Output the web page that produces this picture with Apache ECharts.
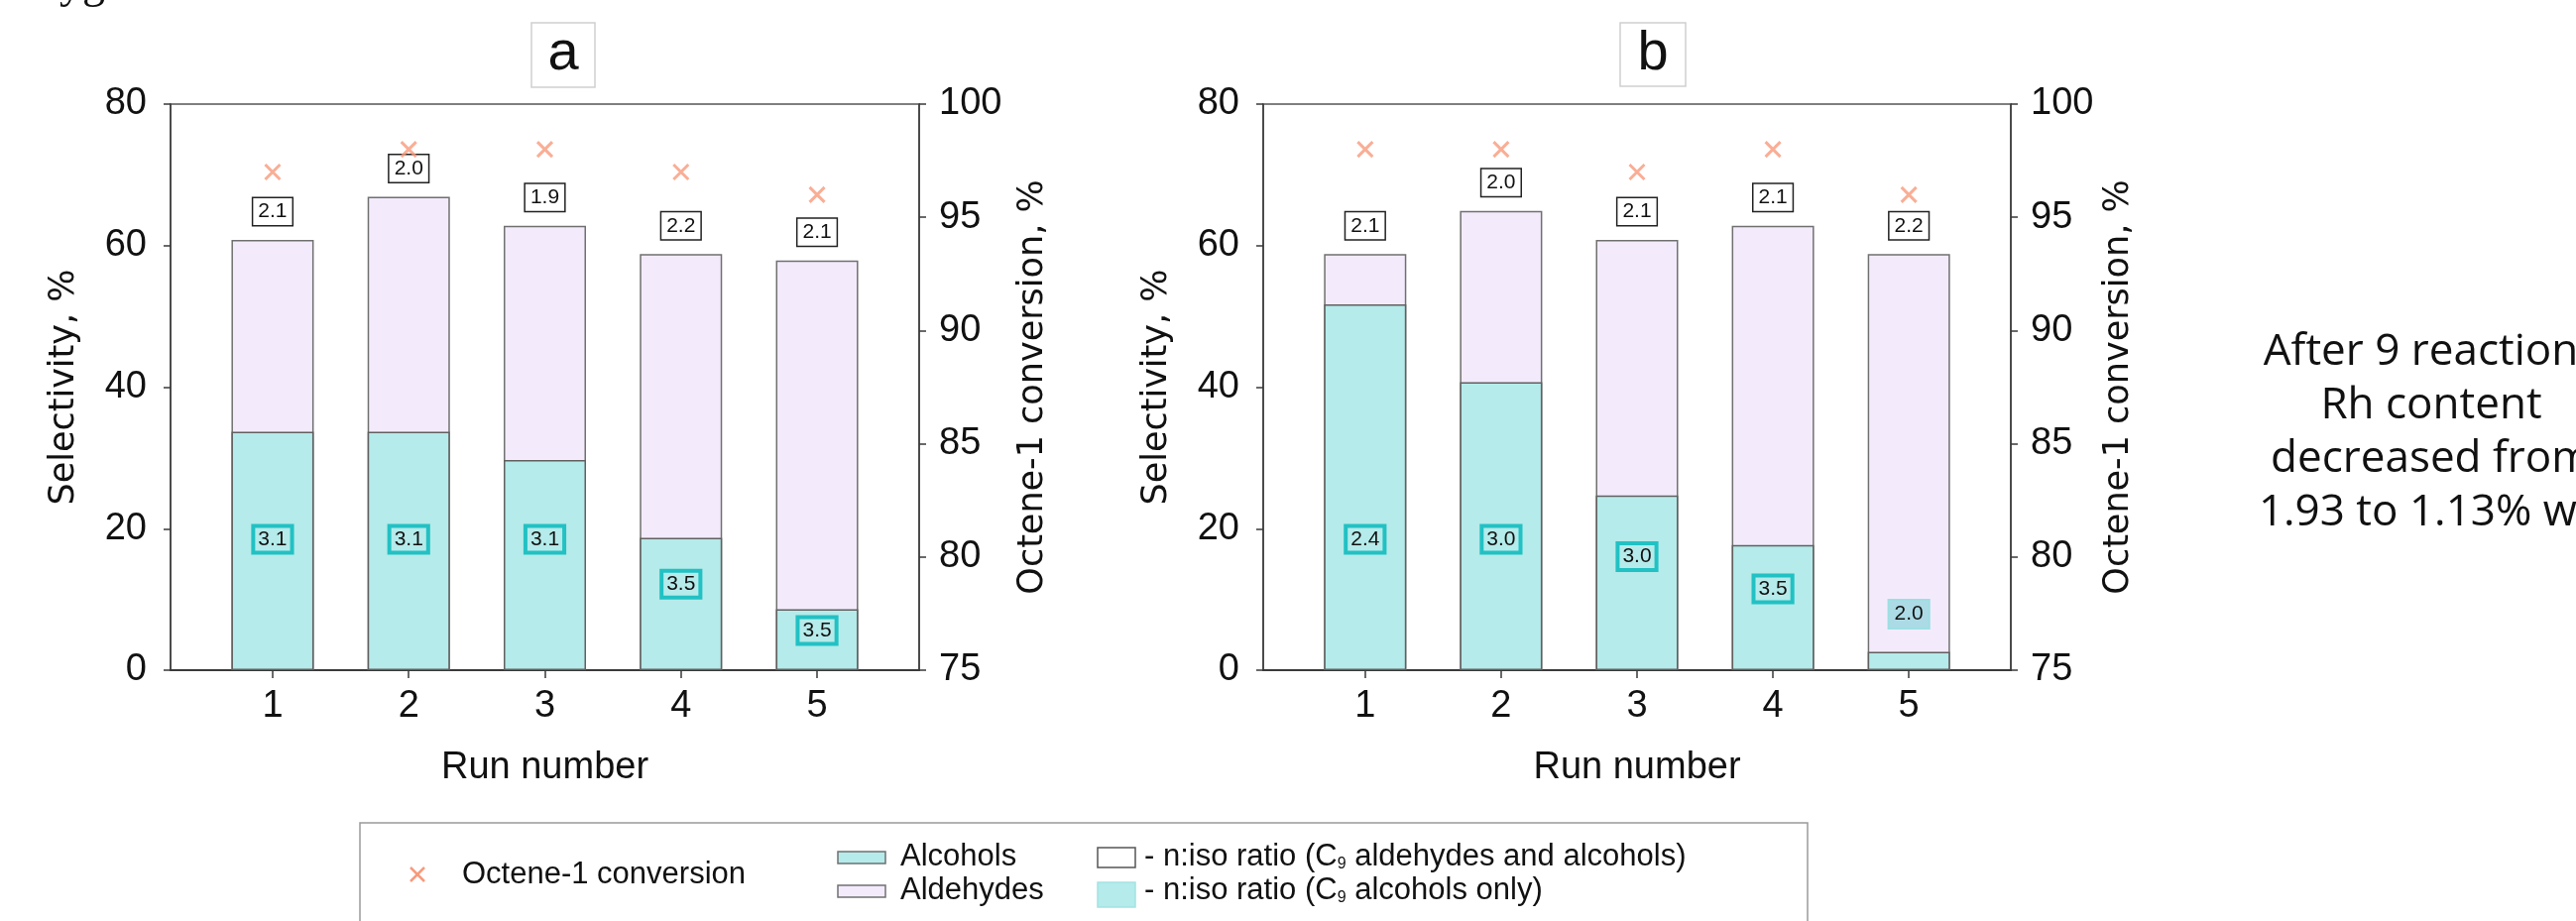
<!DOCTYPE html>
<html>
<head>
<meta charset="utf-8">
<script src="https://cdn.jsdelivr.net/npm/echarts@6/dist/echarts.min.js"></script>
<style>
  html, body { margin: 0; padding: 0; background: #ffffff; }
  #chart { width: 2598px; height: 929px; }
</style>
</head>
<body>
<div id="chart"></div>
<script>
// ---- data -------------------------------------------------------------
const runs = [1, 2, 3, 4, 5];

// panel a
const alcoholsA   = [33.7, 33.7, 29.7, 18.7, 8.6];
const aldehydesA  = [27.1, 33.2, 33.1, 40.1, 49.3];
const conversionA = [97, 98, 98, 97, 96];
const ratioAllA   = ['2.1', '2.0', '1.9', '2.2', '2.1'];
const ratioAlcA   = ['3.1', '3.1', '3.1', '3.5', '3.5'];

// panel b
const alcoholsB   = [51.7, 40.7, 24.7, 17.7, 2.6];
const aldehydesB  = [7.1, 24.2, 36.1, 45.1, 56.2];
const conversionB = [98, 98, 97, 98, 96];
const ratioAllB   = ['2.1', '2.0', '2.1', '2.1', '2.2'];
const ratioAlcB   = ['2.4', '3.0', '3.0', '3.5', '2.0'];

// ---- styles -----------------------------------------------------------
const TEAL = '#b5ebea';
const LAVENDER = '#f3ebfc';
const CROSS = '#f79a7c';
const AXIS = '#3a3a3a';
const NUM_FONT = "'Liberation Sans', Arial, sans-serif";
const NAME_FONT = "'DejaVu Sans', Verdana, sans-serif";

const panels = [
  { alc: alcoholsA, ald: aldehydesA, conv: conversionA, rAll: ratioAllA, rAlc: ratioAlcA, rightGap: 97 },
  { alc: alcoholsB, ald: aldehydesB, conv: conversionB, rAll: ratioAllB, rAlc: ratioAlcB, rightGap: 91 }
];

const grids = [
  { left: 172, top: 105, width: 755, height: 571 },
  { left: 1274, top: 105, width: 754, height: 571 }
].map(g => Object.assign(g, { show: true, borderColor: '#555', borderWidth: 1.5, backgroundColor: 'transparent' }));

const labelBox = {
  fontFamily: NUM_FONT, fontSize: 21, lineHeight: 21, color: '#111',
  padding: [3, 5, 3, 5]
};

const xAxes = [], yAxes = [], series = [];

panels.forEach((p, i) => {
  xAxes.push({
    type: 'value', gridIndex: i, min: 0.25, max: 5.75,
    axisLine: { show: true, onZero: false, lineStyle: { color: AXIS, width: 2 } },
    axisTick: { show: true, customValues: runs, length: 8, lineStyle: { color: AXIS, width: 1.5 } },
    axisLabel: { customValues: runs, fontFamily: NUM_FONT, fontSize: 38, color: '#111', margin: 18 },
    splitLine: { show: false },
    name: 'Run number', nameLocation: 'middle', nameGap: 80,
    nameTextStyle: { fontFamily: NUM_FONT, fontSize: 38, color: '#111' }
  });
  const yBase = {
    gridIndex: i, type: 'value',
    axisLine: { show: true, lineStyle: { color: AXIS, width: 1.5 } },
    axisTick: { show: true, length: 7, lineStyle: { color: AXIS, width: 1.5 } },
    splitLine: { show: false },
    nameLocation: 'middle', nameRotate: 90,
    nameTextStyle: { fontFamily: NAME_FONT, fontSize: 35, color: '#111' }
  };
  yAxes.push(Object.assign({}, yBase, {
    position: 'left', min: 0, max: 80, interval: 20,
    axisLabel: { fontFamily: NUM_FONT, fontSize: 38, color: '#111', margin: 24 },
    name: 'Selectivity, %', nameGap: 90
  }));
  yAxes.push(Object.assign({}, yBase, {
    position: 'right', min: 75, max: 100, interval: 5,
    axisLabel: { fontFamily: NUM_FONT, fontSize: 38, color: '#111', margin: 20 },
    name: 'Octene-1 conversion, %', nameGap: p.rightGap
  }));

  // full column = alcohols + aldehydes; the alcohol part is drawn over its lower section
  series.push({
    name: 'Aldehydes', type: 'bar', xAxisIndex: i, yAxisIndex: 2 * i,
    barWidth: 83, barGap: '-100%',
    data: runs.map((r, k) => [r, +(p.alc[k] + p.ald[k]).toFixed(2)]),
    itemStyle: { color: LAVENDER, borderColor: '#707070', borderWidth: 1.5 },
    label: Object.assign({
      show: true, position: 'top', distance: 15,
      formatter: (d) => p.rAll[d.dataIndex],
      backgroundColor: '#ffffff', borderColor: '#222', borderWidth: 1.5
    }, labelBox),
    z: 2
  });

  // alcohols: ratio label sits inside the bar, or just above it when the bar is too short
  const alcData = runs.map((r, k) => {
    const v = p.alc[k];
    const short = v < 5;
    const level = short ? v + 5.3 : Math.min(0.65 * v, 18.5);
    const pct = (v - level) / v * 100;
    return {
      value: [r, v],
      label: Object.assign({
        show: true, position: ['50%', pct + '%'], align: 'center', verticalAlign: 'middle',
        formatter: p.rAlc[k],
        borderColor: short ? '#9ddfe4' : '#22c1c3', borderWidth: 2,
        backgroundColor: short ? '#acdbe5' : 'transparent'
      }, labelBox)
    };
  });
  series.push({
    name: 'Alcohols', type: 'bar', xAxisIndex: i, yAxisIndex: 2 * i,
    barWidth: 83, barGap: '-100%', data: alcData,
    itemStyle: { color: TEAL, borderColor: '#606060', borderWidth: 1.5 },
    z: 3
  });

  series.push({
    name: 'Octene-1 conversion', type: 'scatter', xAxisIndex: i, yAxisIndex: 2 * i + 1,
    symbol: 'path://M0,0L10,10M10,0L0,10', symbolSize: 15,
    data: runs.map((r, k) => [r, p.conv[k]]),
    itemStyle: { color: 'rgba(0,0,0,0)', borderColor: CROSS, borderWidth: 3 },
    z: 4
  });
});

// ---- panel letters, legend box and side note ----------------------------
const txt = (x, y, text, extra) => ({
  type: 'text', x, y, silent: true,
  style: Object.assign({ text, fill: '#111', font: '31px ' + NUM_FONT, verticalAlign: 'middle' }, extra || {})
});

const graphic = [
  // clipped line of running text above the figure
  txt(60, 8, 'ygen', { font: '46px "Liberation Serif", serif', verticalAlign: 'bottom' }),

  // panel letters
  { type: 'rect', shape: { x: 536, y: 23, width: 64, height: 65 }, style: { fill: '#fff', stroke: '#cfcfcf', lineWidth: 1.5 } },
  txt(568, 55, 'a', { font: '56px ' + NUM_FONT, align: 'center' }),
  { type: 'rect', shape: { x: 1634, y: 23, width: 66, height: 64 }, style: { fill: '#fff', stroke: '#cfcfcf', lineWidth: 1.5 } },
  txt(1667, 55, 'b', { font: '56px ' + NUM_FONT, align: 'center' }),

  // legend frame
  { type: 'rect', shape: { x: 363, y: 830, width: 1460, height: 130 }, style: { fill: 'none', stroke: '#9a9a9a', lineWidth: 1.5 } },
  { type: 'line', shape: { x1: 414, y1: 875, x2: 428, y2: 889 }, style: { stroke: CROSS, lineWidth: 2.5 } },
  { type: 'line', shape: { x1: 428, y1: 875, x2: 414, y2: 889 }, style: { stroke: CROSS, lineWidth: 2.5 } },
  txt(466, 882, 'Octene-1 conversion'),
  { type: 'rect', shape: { x: 845, y: 859, width: 48, height: 12 }, style: { fill: TEAL, stroke: '#707070', lineWidth: 1.5 } },
  txt(908, 864, 'Alcohols'),
  { type: 'rect', shape: { x: 845, y: 893, width: 48, height: 12 }, style: { fill: LAVENDER, stroke: '#707070', lineWidth: 1.5 } },
  txt(908, 898, 'Aldehydes'),
  { type: 'rect', shape: { x: 1107, y: 855, width: 38, height: 20 }, style: { fill: '#fff', stroke: '#555', lineWidth: 1.5 } },
  {
    type: 'text', x: 1154, y: 864, silent: true,
    style: {
      text: '- n:iso ratio (C{sub|9} aldehydes and alcohols)',
      fill: '#111', font: '31px ' + NUM_FONT, verticalAlign: 'middle',
      rich: { sub: { fontSize: 16, fontFamily: NUM_FONT, fill: '#111', verticalAlign: 'bottom', padding: [14, 0, 0, 0] } }
    }
  },
  { type: 'rect', shape: { x: 1107, y: 890, width: 38, height: 25 }, style: { fill: TEAL, stroke: '#a3e3e3', lineWidth: 1.5 } },
  {
    type: 'text', x: 1154, y: 898, silent: true,
    style: {
      text: '- n:iso ratio (C{sub|9} alcohols only)',
      fill: '#111', font: '31px ' + NUM_FONT, verticalAlign: 'middle',
      rich: { sub: { fontSize: 16, fontFamily: NUM_FONT, fill: '#111', verticalAlign: 'bottom', padding: [14, 0, 0, 0] } }
    }
  },

  // side note
  {
    type: 'text', x: 2452, y: 328, silent: true,
    style: {
      text: 'After 9 reactions\nRh content\ndecreased from\n1.93 to 1.13% wt.',
      fill: '#111', font: '44px "Open Sans", sans-serif', align: 'center', verticalAlign: 'top', lineHeight: 54
    }
  }
];

const chart = echarts.init(document.getElementById('chart'), null, { renderer: 'canvas' });
chart.setOption({
  backgroundColor: '#ffffff',
  animation: false,
  grid: grids,
  xAxis: xAxes,
  yAxis: yAxes,
  series: series,
  graphic: graphic
});
</script>
</body>
</html>
